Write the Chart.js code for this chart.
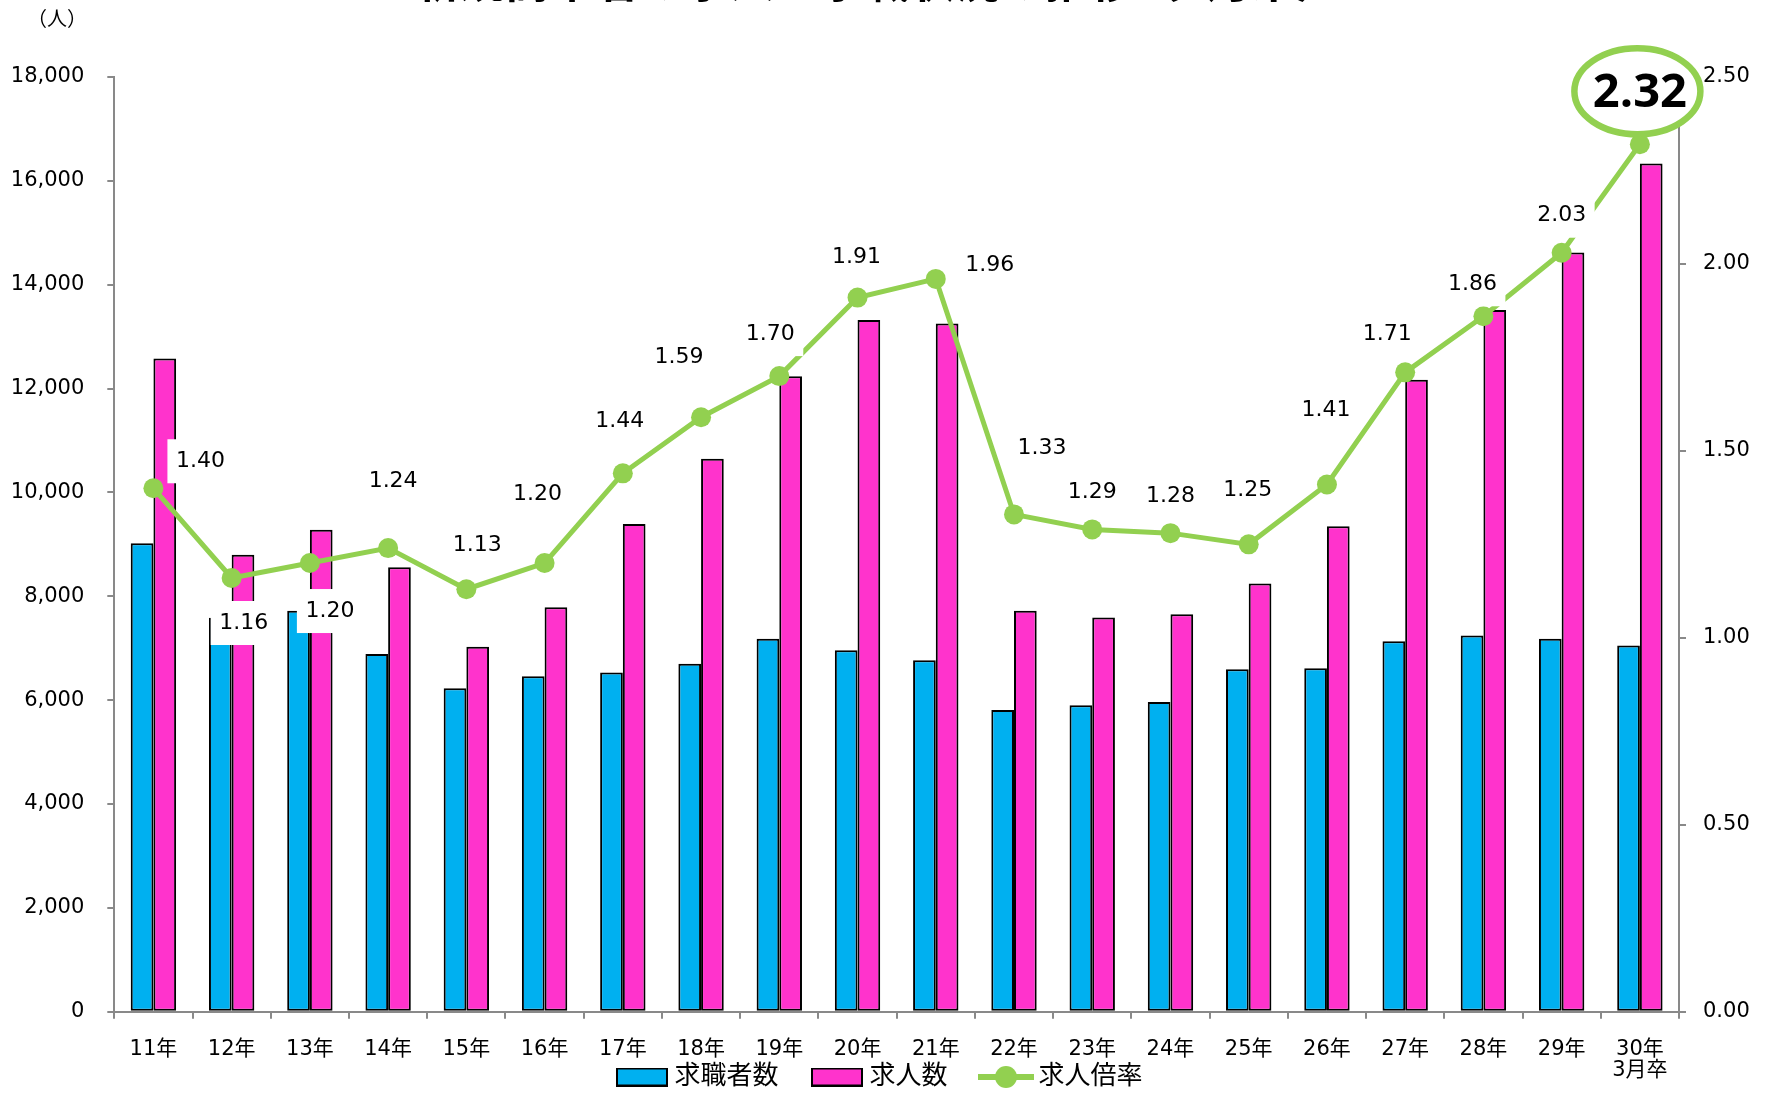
<!DOCTYPE html>
<html lang="ja">
<head>
  <meta charset="UTF-8" />
  <title>新規高卒者の求人・求職状況の推移</title>
  <script src="https://cdn.jsdelivr.net/npm/chart.js"></script>
  <style>
    html, body { margin: 0; padding: 0; background: #fff; }
    #wrap { width: 1765px; height: 1097px; }
  </style>
</head>
<body>
  <div id="wrap"><canvas id="jobChart" width="1765" height="1097"></canvas></div>

  <script>
    const years = ["11年", "12年", "13年", "14年", "15年", "16年", "17年", "18年", "19年", "20年",
                   "21年", "22年", "23年", "24年", "25年", "26年", "27年", "28年", "29年", ["30年", "3月卒"]];
    const applicants = [9020, 7585, 7720, 6890, 6230, 6460, 6530, 6700, 7180, 6960,
                        6770, 5810, 5900, 5965, 6595, 6615, 7135, 7245, 7180, 7050];   // 求職者数
    const openings = [12580, 8800, 9280, 8560, 7030, 7790, 9390, 10650, 12235, 13320,
                      13255, 7720, 7590, 7655, 8245, 9350, 12170, 13515, 14620, 16335]; // 求人数
    const ratio = [1.40, 1.16, 1.20, 1.24, 1.13, 1.20, 1.44, 1.59, 1.70, 1.91,
                   1.96, 1.33, 1.29, 1.28, 1.25, 1.41, 1.71, 1.86, 2.03, 2.32];       // 求人倍率
    const leftTicks = [0, 2000, 4000, 6000, 8000, 10000, 12000, 14000, 16000, 18000];
    const rightTicks = [0, 0.5, 1.0, 1.5, 2.0, 2.5];

    // where each ratio label sits relative to its point (px)
    const labelOffsets = [[47, -27], [12, 45], [20, 48], [5, -67], [11, -44], [-7, -69], [-3, -52], [-22, -60],
                          [-9, -42], [-1, -40], [54, -14], [28, -66], [0, -37], [0, -37], [-1, -54], [-1, -74],
                          [-18, -38], [-11, -32], [0, -37]];

    const BLUE = "#00B0F0", PINK = "#FF33CC", GREEN = "#92D050", AXIS = "#898989";
    const FONT = "'DejaVu Sans', 'Noto Sans CJK JP', sans-serif";

    Chart.defaults.font.family = FONT;
    Chart.defaults.color = "#000";

    function swatch(kind, color) {
      const c = document.createElement("canvas");
      const g = c.getContext("2d");
      if (kind === "bar") {
        c.width = 52; c.height = 19;
        g.fillStyle = color;
        g.fillRect(1, 1, 50, 17);
        g.lineWidth = 2;
        g.strokeStyle = "#000";
        g.strokeRect(1, 1, 50, 17);
      } else {
        c.width = 56; c.height = 24;
        g.strokeStyle = color;
        g.lineWidth = 6;
        g.beginPath(); g.moveTo(0, 12); g.lineTo(56, 12); g.stroke();
        g.fillStyle = color;
        g.beginPath(); g.arc(28, 12, 11, 0, Math.PI * 2); g.fill();
      }
      return c;
    }

    const labelPlugin = {
      id: "ratioLabels",
      afterLayout(chart) {
        // let the x labels overflow into the legend band, nudge legend down a bit
        chart.scales.x.bottom = chart.height;
        chart.legend.top += 3;
        chart.legend.bottom += 3;
      },
      afterDatasetsDraw(chart) {
        const ctx = chart.ctx;
        const pts = chart.getDatasetMeta(2).data;
        ctx.save();
        ctx.font = "22px " + FONT;
        ctx.textAlign = "center";
        ctx.textBaseline = "middle";
        pts.forEach((pt, i) => {
          if (i >= labelOffsets.length) return;
          const x = pt.x + labelOffsets[i][0], y = pt.y + labelOffsets[i][1];
          const txt = ratio[i].toFixed(2);
          const w = ctx.measureText(txt).width + 17;
          ctx.fillStyle = "#fff";
          ctx.fillRect(x - w / 2, y - 22, w, 44);
          ctx.fillStyle = "#000";
          ctx.fillText(txt, x, y);
        });
        ctx.restore();
      },
      afterDraw(chart) {
        const ctx = chart.ctx;
        const pts = chart.getDatasetMeta(2).data;
        const last = pts[pts.length - 1];
        ctx.save();
        // highlight the latest ratio
        ctx.beginPath();
        ctx.ellipse(last.x - 2.5, last.y - 53, 63, 43, 0, 0, Math.PI * 2);
        ctx.fillStyle = "#fff";
        ctx.fill();
        ctx.lineWidth = 6.5;
        ctx.strokeStyle = GREEN;
        ctx.stroke();
        ctx.fillStyle = "#000";
        ctx.textAlign = "center";
        ctx.textBaseline = "middle";
        ctx.font = "bold 47px 'Open Sans', sans-serif";
        ctx.fillText(ratio[ratio.length - 1].toFixed(2), last.x, last.y - 51);

        // unit + title (title is cut off by the top edge in the original)
        ctx.font = "20px " + FONT;
        ctx.fillText("（人）", 57, 21);
        ctx.font = "bold 45px 'Noto Sans CJK JP', sans-serif";
        ctx.textBaseline = "alphabetic";
        ctx.fillText("新規高卒者の求人・求職状況の推移（3月末）", 878, -2);
        ctx.restore();
      }
    };

    new Chart(document.getElementById("jobChart"), {
      data: {
        labels: years,
        datasets: [
          {
            type: "bar",
            label: "求職者数",
            data: applicants,
            backgroundColor: BLUE,
            borderColor: "#000",
            borderWidth: 2,
            borderSkipped: false,
            yAxisID: "y",
            order: 2,
            categoryPercentage: 0.58,
            barPercentage: 1.0
          },
          {
            type: "bar",
            label: "求人数",
            data: openings,
            backgroundColor: PINK,
            borderColor: "#000",
            borderWidth: 2,
            borderSkipped: false,
            yAxisID: "y",
            order: 2,
            categoryPercentage: 0.58,
            barPercentage: 1.0
          },
          {
            type: "line",
            label: "求人倍率",
            data: ratio,
            borderColor: GREEN,
            borderWidth: 5,
            backgroundColor: GREEN,
            pointBackgroundColor: GREEN,
            pointBorderWidth: 0,
            pointRadius: 10,
            yAxisID: "y2",
            order: 1,
            tension: 0
          }
        ]
      },
      options: {
        responsive: false,
        animation: false,
        devicePixelRatio: 1,
        layout: { padding: { top: 77, left: 0, right: 0, bottom: 0 } },
        plugins: {
          tooltip: { enabled: false },
          legend: {
            position: "bottom",
            labels: {
              usePointStyle: true,
              pointStyleWidth: 39,
              padding: 39,
              font: { size: 26 },
              generateLabels: () => [
                { text: "求職者数", pointStyle: swatch("bar", BLUE), fillStyle: BLUE, lineWidth: 0, hidden: false, datasetIndex: 0, fontColor: "#000" },
                { text: "求人数", pointStyle: swatch("bar", PINK), fillStyle: PINK, lineWidth: 0, hidden: false, datasetIndex: 1, fontColor: "#000" },
                { text: "求人倍率", pointStyle: swatch("line", GREEN), fillStyle: GREEN, lineWidth: 0, hidden: false, datasetIndex: 2, fontColor: "#000" }
              ]
            }
          }
        },
        scales: {
          x: {
            offset: true,
            grid: { offset: true, drawOnChartArea: false, tickLength: 7, color: AXIS, lineWidth: 2 },
            border: { color: AXIS, width: 2 },
            ticks: { font: { size: 21, lineHeight: 1.0 }, padding: 20, maxRotation: 0, autoSkip: false },
            afterFit: s => { s.height = 10.3; }
          },
          y: {
            position: "left",
            min: 0,
            max: 18000,
            afterBuildTicks: s => { s.ticks = leftTicks.map(v => ({ value: v })); },
            grid: { drawOnChartArea: false, tickLength: 7, color: AXIS, lineWidth: 2 },
            border: { color: AXIS, width: 2 },
            ticks: { font: { size: 21 }, padding: 23, callback: v => v.toLocaleString("en-US") },
            afterFit: s => { s.width = 114.3; }
          },
          y2: {
            position: "right",
            min: 0,
            max: 2.5,
            afterBuildTicks: s => { s.ticks = rightTicks.map(v => ({ value: v })); },
            grid: { drawOnChartArea: false, tickLength: 7, color: AXIS, lineWidth: 2 },
            border: { color: AXIS, width: 2 },
            ticks: { font: { size: 21 }, padding: 17, callback: v => v.toFixed(2) },
            afterFit: s => { s.width = 86; }
          }
        }
      },
      plugins: [labelPlugin]
    });
  </script>
</body>
</html>
